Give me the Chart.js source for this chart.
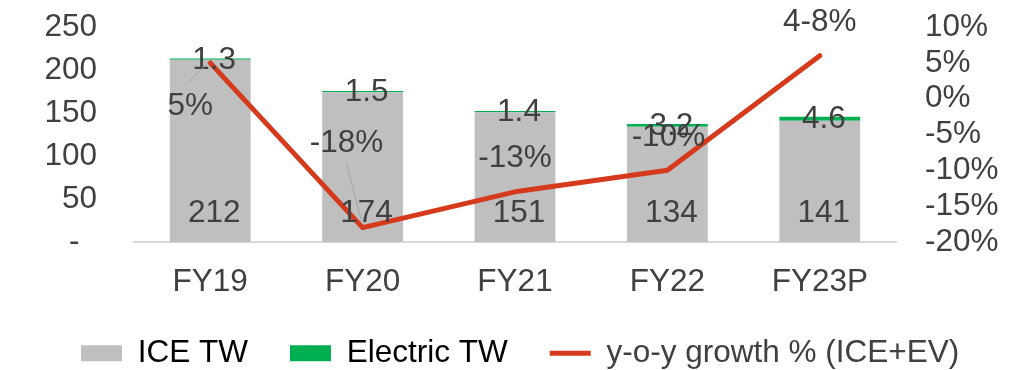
<!DOCTYPE html>
<html>
<head>
<meta charset="utf-8">
<script src="https://cdn.jsdelivr.net/npm/chart.js@4.4.1/dist/chart.umd.min.js"></script>
<style>
  html, body { margin: 0; padding: 0; background: #fff; overflow: hidden; }
</style>
</head>
<body>
<canvas id="twChart" width="1025" height="379"></canvas>
<script>
// Two-wheeler volumes (ICE vs electric) with y-o-y growth
const categories = ["FY19", "FY20", "FY21", "FY22", "FY23P"];
const iceUnits = [212, 174, 151, 134, 141];
const evUnits = [1.3, 1.5, 1.4, 3.2, 4.6];
const growthPct = [5, -18, -13, -10, 6];
const growthText = ["5%", "-18%", "-13%", "-10%", "4-8%"];

const FONT = '"Liberation Sans", Arial, sans-serif';
const FONT_SIZE = 31.5;
const RED = "#D63A1C";

// where each growth label sits relative to its point, plus leader lines
const growthLabelOffset = [[-20, 43], [-16, -84], [0, -34], [1, -33], [0, -33]];
const leaderLines = [
  { index: 0, from: [-21, 19], to: [-1, -2] },
  { index: 1, from: [-16, -64], to: [-1, -6] }
];

const valueLabels = {
  id: "valueLabels",
  afterDatasetsDraw(chart) {
    const { ctx } = chart;
    const base = chart.scales.y.getPixelForValue(0);
    ctx.save();
    ctx.font = FONT_SIZE + "px " + FONT;
    ctx.fillStyle = "#404040";
    ctx.textAlign = "center";
    ctx.textBaseline = "middle";

    chart.getDatasetMeta(0).data.forEach((bar, i) => {
      ctx.fillText(String(iceUnits[i]), bar.x + 4, base - 29);
    });
    chart.getDatasetMeta(1).data.forEach((bar, i) => {
      ctx.fillText(evUnits[i].toFixed(1), bar.x + 4, (bar.y + bar.base) / 2 + 1);
    });

    const pts = chart.getDatasetMeta(2).data;
    ctx.strokeStyle = "#A6A6A6";
    ctx.lineWidth = 1;
    leaderLines.forEach(l => {
      const p = pts[l.index];
      ctx.beginPath();
      ctx.moveTo(p.x + l.from[0], p.y + l.from[1]);
      ctx.lineTo(p.x + l.to[0], p.y + l.to[1]);
      ctx.stroke();
    });
    pts.forEach((p, i) => {
      const [dx, dy] = growthLabelOffset[i];
      ctx.fillText(growthText[i], p.x + dx, p.y + dy);
    });
    ctx.restore();
  }
};

// y axes: fixed width, no extra top/bottom padding from the tick labels
function fixAxis(width) {
  return s => {
    s.width = width;
    s.paddingTop = 0;
    s.paddingBottom = 0;
  };
}

Chart.defaults.font.family = FONT;
Chart.defaults.font.size = FONT_SIZE;
Chart.defaults.color = "#404040";

const ctx = document.getElementById("twChart").getContext("2d");
new Chart(ctx, {
  type: "bar",
  data: {
    labels: categories,
    datasets: [
      { label: "ICE TW", data: iceUnits, backgroundColor: "#BFBFBF", stack: "tw", order: 1 },
      { label: "Electric TW", data: evUnits, backgroundColor: "#00B050", stack: "tw", order: 1, inflateAmount: 0 },
      {
        type: "line",
        label: "y-o-y growth % (ICE+EV)",
        data: growthPct,
        yAxisID: "y1",
        borderColor: RED,
        backgroundColor: RED,
        borderWidth: 5,
        borderCapStyle: "round",
        borderJoinStyle: "round",
        pointRadius: 0,
        tension: 0,
        order: 0
      }
    ]
  },
  options: {
    responsive: false,
    animation: false,
    devicePixelRatio: 1,
    layout: { padding: { left: 39, top: 27, right: 0, bottom: 0 } },
    datasets: { bar: { categoryPercentage: 1, barPercentage: 0.53 } },
    scales: {
      x: {
        stacked: true,
        grid: { display: false },
        border: { display: true, color: "#D9D9D9", width: 2 },
        ticks: { padding: 17, font: { lineHeight: 1 } },
        afterFit: s => { s.height = 53.5; }
      },
      y: {
        stacked: true,
        min: 0,
        max: 250,
        grid: { display: false },
        border: { display: false },
        ticks: { stepSize: 50, padding: 29, autoSkip: false, callback: v => (v === 0 ? "-  " : v) },
        afterFit: fixAxis(95)
      },
      y1: {
        position: "right",
        min: -20,
        max: 10,
        grid: { display: false },
        border: { display: false },
        ticks: { stepSize: 5, padding: 21, autoSkip: false, callback: v => v + "%" },
        afterFit: fixAxis(129)
      }
    },
    plugins: {
      tooltip: { enabled: false },
      legend: {
        position: "bottom",
        align: "start",
        labels: {
          usePointStyle: true,
          pointStyleWidth: 41,
          boxHeight: 16,
          padding: 42,
          sort: (a, b) => a.datasetIndex - b.datasetIndex,
          generateLabels(chart) {
            const items = Chart.defaults.plugins.legend.labels.generateLabels(chart);
            items.forEach(it => {
              if (it.datasetIndex === 2) {
                it.pointStyle = "line";
                it.lineWidth = 5;
                it.strokeStyle = RED;
                it.fontColor = "#404040";
              } else {
                it.pointStyle = "rect";
                it.lineWidth = 0;
                it.fontColor = "#000000";
              }
            });
            return items;
          }
        }
      }
    }
  },
  plugins: [valueLabels]
});
</script>
</body>
</html>
